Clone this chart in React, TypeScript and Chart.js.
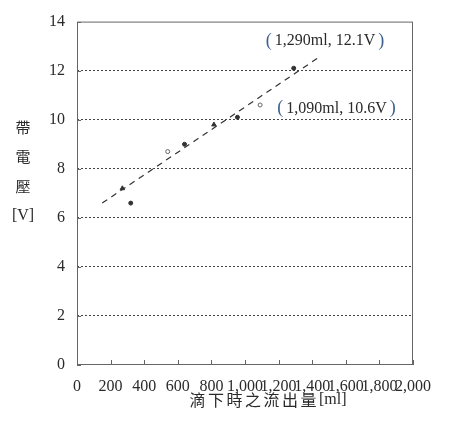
import React, { useEffect, useRef } from "react";
import { Chart, registerables } from "chart.js";

Chart.register(...registerables);

// ---- data ----
const xTickValues = [0, 200, 400, 600, 800, 1000, 1200, 1400, 1600, 1800, 2000];
const yTickValues = [0, 2, 4, 6, 8, 10, 12, 14];
const flowMl = [270, 320, 540, 640, 815, 955, 1090, 1290];
const voltageV = [7.2, 6.6, 8.7, 9.0, 9.8, 10.1, 10.6, 12.1];
const markerKinds = ["triangle", "dot", "ring", "dot", "triangle", "dot", "ring", "dot"];
const trendMl = [150, 1430];
const trendV = [6.6, 12.5];
const noteTexts = ["1,290ml, 12.1V", "1,090ml, 10.6V"];
const xTitle = "滴下時之流出量";
const xUnit = "[ml]";
const yTitleParts = ["帶", "電", "壓", "[V]"];

const SERIF = '"Liberation Serif", "Times New Roman", serif';
const CJK = '"Noto Sans CJK TC", "Noto Sans CJK SC", sans-serif';
const INK = "#2a2a2a";

const decorPlugin = {
  id: "decor",
  beforeDatasetsDraw(chart: any) {
    const { ctx, chartArea: a, scales } = chart;
    ctx.save();
    // plot frame
    ctx.strokeStyle = "#666";
    ctx.lineWidth = 1;
    ctx.strokeRect(a.left + 0.5, a.top + 0.5, a.right - a.left - 1, a.bottom - a.top - 1);
    // inside tick marks
    ctx.beginPath();
    xTickValues.forEach((v) => {
      const px = Math.round(scales.x.getPixelForValue(v)) + 0.5;
      ctx.moveTo(px, a.bottom);
      ctx.lineTo(px, a.bottom - 5);
    });
    yTickValues.forEach((v) => {
      const py = Math.round(scales.y.getPixelForValue(v)) + 0.5;
      ctx.moveTo(a.left, py);
      ctx.lineTo(a.left + 4, py);
    });
    ctx.stroke();
    ctx.restore();
  },
  afterDraw(chart: any) {
    const { ctx, chartArea: a, scales } = chart;
    ctx.save();
    ctx.fillStyle = INK;
    ctx.textBaseline = "middle";

    // x-axis title
    ctx.font = `16px ${CJK}`;
    (ctx as any).letterSpacing = "2.5px";
    const wCjk = ctx.measureText(xTitle).width;
    (ctx as any).letterSpacing = "0px";
    ctx.font = `16px ${SERIF}`;
    const wUnit = ctx.measureText(xUnit).width;
    const cx = (a.left + a.right) / 2 + 23;
    const sx = cx - (wCjk + wUnit) / 2;
    const ty = a.bottom + 35;
    ctx.textAlign = "left";
    ctx.font = `16px ${CJK}`;
    (ctx as any).letterSpacing = "2.5px";
    ctx.fillText(xTitle, sx, ty);
    (ctx as any).letterSpacing = "0px";
    ctx.font = `16px ${SERIF}`;
    ctx.fillText(xUnit, sx + wCjk, ty);

    // y-axis title (stacked)
    ctx.textAlign = "center";
    yTitleParts.forEach((t, i) => {
      ctx.font = t.startsWith("[") ? `16px ${SERIF}` : `15px ${CJK}`;
      ctx.fillText(t, 23, 127 + i * 29.7);
    });

    // annotations
    const anchors = [
      { x: 1476, y: 13.2 },
      { x: 1545, y: 10.45 },
    ];
    noteTexts.forEach((t, i) => {
      const px = scales.x.getPixelForValue(anchors[i].x);
      const py = scales.y.getPixelForValue(anchors[i].y);
      ctx.font = `16px ${SERIF}`;
      const wt = ctx.measureText(t).width;
      const pw = 14;
      const left = px - (wt + pw * 2) / 2;
      ctx.textAlign = "center";
      ctx.fillStyle = "#3d5f8f";
      ctx.font = `18px ${SERIF}`;
      ctx.fillText("(", left + pw / 2 + 1, py);
      ctx.fillText(")", left + pw + wt + pw / 2 - 1, py);
      ctx.fillStyle = INK;
      ctx.textAlign = "left";
      ctx.font = `16px ${SERIF}`;
      ctx.fillText(t, left + pw, py);
    });
    ctx.restore();
  },
};

export default function App() {
  const ref = useRef<HTMLCanvasElement | null>(null);

  useEffect(() => {
    if (!ref.current) return;
    const pts = flowMl.map((x, i) => ({ x, y: voltageV[i] }));
    const trend = trendMl.map((x, i) => ({ x, y: trendV[i] }));
    const chart = new Chart(ref.current, {
      type: "scatter",
      data: {
        datasets: [
          {
            type: "line",
            data: trend,
            borderColor: "#333",
            borderWidth: 1.2,
            borderDash: [6, 5],
            pointRadius: 0,
            fill: false,
          } as any,
          {
            data: pts,
            pointStyle: markerKinds.map((k) => (k === "triangle" ? "triangle" : "circle")) as any,
            pointRadius: markerKinds.map((k) => (k === "triangle" ? 2.6 : 2)),
            backgroundColor: markerKinds.map((k) => (k === "ring" ? "#fff" : "#333")),
            borderColor: markerKinds.map((k) => (k === "ring" ? "#666" : "#333")),
            borderWidth: 1,
          },
        ],
      },
      options: {
        animation: false,
        responsive: true,
        maintainAspectRatio: false,
        layout: { padding: { left: 0, top: 18, right: 43, bottom: 0 } },
        plugins: { legend: { display: false }, tooltip: { enabled: false } },
        scales: {
          x: {
            type: "linear",
            min: 0,
            max: 2000,
            afterBuildTicks: (s: any) => {
              s.ticks = xTickValues.map((v) => ({ value: v }));
            },
            afterFit: (s: any) => {
              s.height = 60;
            },
            ticks: {
              autoSkip: false,
              maxRotation: 0,
              minRotation: 0,
              padding: 4,
              color: INK,
              font: { family: SERIF, size: 16 },
              callback: (v: any) => Number(v).toLocaleString("en-US"),
            },
            grid: { display: false },
            border: { display: false },
          },
          y: {
            type: "linear",
            min: 0,
            max: 14,
            afterBuildTicks: (s: any) => {
              s.ticks = yTickValues.map((v) => ({ value: v }));
            },
            afterFit: (s: any) => {
              s.width = 77;
            },
            ticks: {
              padding: 12,
              color: INK,
              font: { family: SERIF, size: 16 },
            },
            grid: {
              drawTicks: false,
              lineWidth: 1,
              color: (c: any) =>
                c.tick && (c.tick.value === 0 || c.tick.value === 14) ? "rgba(0,0,0,0)" : "#444",
            },
            border: { display: false, dash: [2, 2] },
          },
        },
      },
      plugins: [decorPlugin],
    });
    return () => chart.destroy();
  }, []);

  return (
    <div style={{ position: "fixed", left: 0, top: 0, width: 456, height: 425, background: "#fff" }}>
      <canvas ref={ref} />
    </div>
  );
}
